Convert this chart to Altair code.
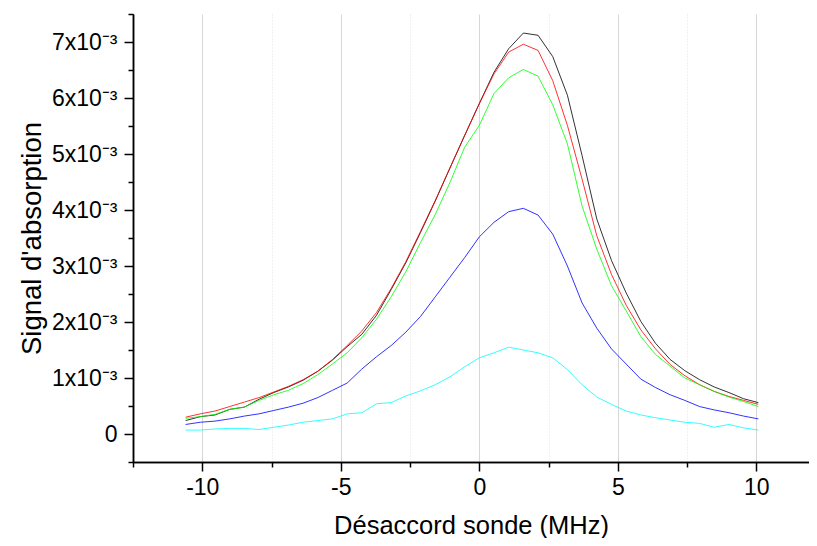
import altair as alt
import pandas as pd

# Detuning (MHz)
x_vals = [-10.6, -10.07, -9.54, -9.01, -8.48, -7.95, -7.42, -6.89, -6.36, -5.83,
          -5.3, -4.77, -4.24, -3.71, -3.18, -2.65, -2.12, -1.59, -1.06, -0.53,
          0.0, 0.53, 1.06, 1.59, 2.12, 2.65, 3.18, 3.71, 4.24, 4.77,
          5.3, 5.83, 6.36, 6.89, 7.42, 7.95, 8.48, 9.01, 9.54, 10.07]

# Absorption signal, in units of 1e-3
black_vals = [0.24, 0.31, 0.34, 0.44, 0.48, 0.62, 0.74, 0.84, 0.96, 1.12,
              1.32, 1.56, 1.78, 2.12, 2.58, 3.06, 3.60, 4.16, 4.75, 5.33,
              5.90, 6.46, 6.88, 7.16, 7.12, 6.74, 6.05, 4.97, 3.84, 3.10,
              2.52, 2.01, 1.62, 1.33, 1.13, 0.97, 0.84, 0.74, 0.63, 0.56]
red_vals = [0.30, 0.36, 0.41, 0.49, 0.57, 0.65, 0.75, 0.85, 0.97, 1.12,
            1.33, 1.58, 1.84, 2.17, 2.60, 3.08, 3.62, 4.17, 4.75, 5.33,
            5.90, 6.43, 6.82, 6.96, 6.85, 6.31, 5.51, 4.55, 3.54, 2.85,
            2.30, 1.86, 1.52, 1.24, 1.04, 0.88, 0.76, 0.67, 0.60, 0.53]
green_vals = [0.28, 0.31, 0.35, 0.44, 0.48, 0.60, 0.70, 0.78, 0.90, 1.06,
              1.25, 1.45, 1.72, 2.05, 2.45, 2.90, 3.42, 3.92, 4.49, 5.12,
              5.51, 6.08, 6.36, 6.51, 6.39, 5.88, 5.18, 4.07, 3.30, 2.65,
              2.20, 1.74, 1.42, 1.21, 1.00, 0.88, 0.76, 0.66, 0.58, 0.49]
blue_vals = [0.17, 0.21, 0.23, 0.27, 0.32, 0.36, 0.42, 0.48, 0.55, 0.65,
             0.78, 0.91, 1.16, 1.38, 1.58, 1.82, 2.10, 2.45, 2.80, 3.15,
             3.52, 3.78, 3.97, 4.03, 3.91, 3.57, 3.00, 2.34, 1.89, 1.52,
             1.25, 0.98, 0.83, 0.70, 0.60, 0.49, 0.43, 0.38, 0.32, 0.27]
cyan_vals = [0.07, 0.07, 0.09, 0.10, 0.10, 0.08, 0.12, 0.16, 0.21, 0.24,
             0.27, 0.36, 0.38, 0.54, 0.56, 0.68, 0.77, 0.88, 1.02, 1.20,
             1.36, 1.45, 1.55, 1.50, 1.45, 1.36, 1.15, 0.88, 0.66, 0.53,
             0.41, 0.34, 0.29, 0.25, 0.21, 0.19, 0.12, 0.17, 0.11, 0.07]

series_names = ["s1", "s2", "s3", "s4", "s5"]
series_colors = ["#000000", "#ff0000", "#00ff00", "#0000ff", "#00ffff"]
series_values = [black_vals, red_vals, green_vals, blue_vals, cyan_vals]

x_major = [-10, -5, 0, 5, 10]
x_minor = [-12.5, -7.5, -2.5, 2.5, 7.5]
y_major = [0.0, 0.001, 0.002, 0.003, 0.004, 0.005, 0.006, 0.007]
y_minor = [-0.0005, 0.0005, 0.0015, 0.0025, 0.0035, 0.0045, 0.0055, 0.0065, 0.0075]

rows = []
for k, (name, vals) in enumerate(zip(series_names, series_values)):
    for i, (xv, yv) in enumerate(zip(x_vals, vals)):
        rows.append({"series": name, "k": k, "i": i, "x": xv, "y": yv * 1e-3})
df = pd.DataFrame(rows)

FONT = "Liberation Sans"
xscale = alt.Scale(domain=[-12.5, 11.9], nice=False, zero=False)
yscale = alt.Scale(domain=[-0.0005, 0.0075], nice=False, zero=False)

common_axis = dict(domainColor="black", domainWidth=1.5, tickColor="black",
                   tickWidth=1.5, labelFont=FONT, labelColor="black",
                   titleFont=FONT, titleColor="black", titleFontWeight="normal")

x_major_axis = alt.Axis(orient="bottom", values=x_major, tickSize=9, grid=True,
                        gridColor="#d6d6d6", gridWidth=1, labelFontSize=23,
                        labelPadding=5, labelExpr="'' + datum.value",
                        title="Désaccord sonde (MHz)", titleFontSize=25.5,
                        titleY=63, titleBaseline="middle", **common_axis)
x_minor_axis = alt.Axis(orient="bottom", values=x_minor, tickSize=5, grid=True,
                        gridColor="#e2e2e2", gridWidth=1, gridDash=[1, 2],
                        labels=False, title=None, **common_axis)
y_major_axis = alt.Axis(orient="left", values=y_major, tickSize=9, grid=False,
                        labelFontSize=23, labelPadding=7,
                        labelExpr="datum.value == 0 ? '0' : ('' + round(datum.value * 1000) + 'x10⁻³')",
                        title="Signal d'absorption", titleFontSize=27.5,
                        titleX=-101, titleBaseline="middle", **common_axis)
y_minor_axis = alt.Axis(orient="left", values=y_minor, tickSize=5, grid=False,
                        labels=False, title=None, **common_axis)

minor = alt.Chart(df).mark_point(opacity=0).encode(
    x=alt.X("x:Q", scale=xscale, axis=x_minor_axis),
    y=alt.Y("y:Q", scale=yscale, axis=y_minor_axis),
)

lines = alt.Chart(df).mark_line(strokeWidth=1, opacity=0.8, clip=True).encode(
    x=alt.X("x:Q", scale=xscale, axis=x_major_axis),
    y=alt.Y("y:Q", scale=yscale, axis=y_major_axis),
    color=alt.Color("series:N", scale=alt.Scale(domain=series_names, range=series_colors), legend=None),
    order=alt.Order("i:Q"),
)

chart = alt.layer(minor, lines).resolve_axis(x="independent", y="independent").properties(
    width=676, height=448,
    autosize=alt.AutoSizeParams(type="none"),
    padding={"left": 125, "top": 6, "right": 0, "bottom": 76},
    background="white",
).configure_view(stroke=None)

chart.save("out.html", embed_options={"renderer": "svg", "actions": False})
